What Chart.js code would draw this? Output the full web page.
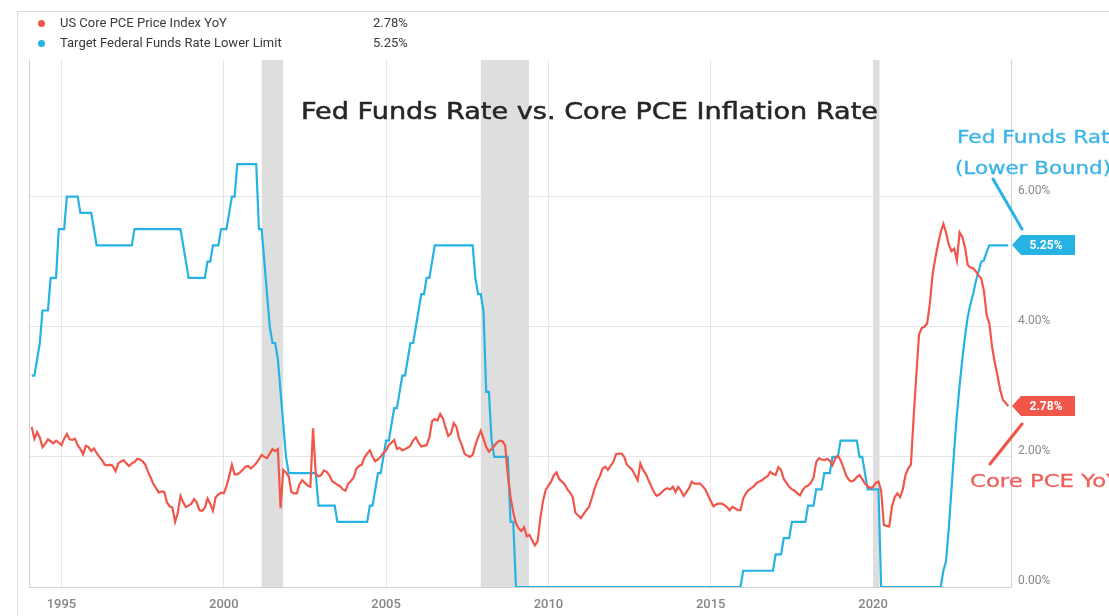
<!DOCTYPE html>
<html>
<head>
<meta charset="utf-8">
<script src="https://cdn.jsdelivr.net/npm/chart.js@4.4.1/dist/chart.umd.min.js"></script>
<style>
html,body{margin:0;padding:0;background:#fff;}
body{width:1109px;height:616px;overflow:hidden;position:relative;font-family:Roboto,"Noto Sans",sans-serif;}
#frame{position:absolute;left:17px;top:11px;width:1200px;height:700px;border-left:1px solid #dcdcdc;border-top:1px solid #dcdcdc;}
#chart{position:absolute;left:0;top:0;}
.legrow{position:absolute;left:0;height:16px;line-height:16px;font-size:13px;color:#3a3a3a;white-space:nowrap;}
.legrow .dot{position:absolute;left:38px;top:4.5px;width:7px;height:7px;border-radius:50%;}
.legrow .name{position:absolute;left:60px;top:0;}
.legrow .val{position:absolute;left:373px;top:0;}
.hand{position:absolute;white-space:nowrap;transform-origin:left center;font-family:"DejaVu Sans",sans-serif;}
#title{left:301px;top:98px;font-size:23px;line-height:26px;color:#262626;-webkit-text-stroke:0.5px #262626;}
#annFed1,#annFed2{color:#3ab4e8;font-size:17px;line-height:20px;-webkit-text-stroke:0.3px #3ab4e8;}
#annFed1{left:957px;top:127px;}
#annFed2{left:955px;top:158px;}
#annPce{left:970px;top:471px;color:#ef5f5a;font-size:17px;line-height:20px;-webkit-text-stroke:0.3px #ef5f5a;}
#pointers{position:absolute;left:0;top:0;}
</style>
</head>
<body>
<div id="frame"></div>
<canvas id="chart" width="1109" height="616"></canvas>
<div class="legrow" style="top:15px"><span class="dot" id="dot0"></span><span class="name" id="name0"></span><span class="val" id="val0"></span></div>
<div class="legrow" style="top:35px"><span class="dot" id="dot1"></span><span class="name" id="name1"></span><span class="val" id="val1"></span></div>
<div class="hand" id="title">Fed Funds Rate vs. Core PCE Inflation Rate</div>
<div class="hand" id="annFed1">Fed Funds Rate</div>
<div class="hand" id="annFed2">(Lower Bound)</div>
<div class="hand" id="annPce">Core PCE YoY</div>
<svg id="pointers" width="1109" height="616">
  <line x1="993" y1="179" x2="1022" y2="229" stroke="#2bb2e4" stroke-width="3" stroke-linecap="round"/>
  <line x1="990" y1="464" x2="1022" y2="424" stroke="#ef5448" stroke-width="3" stroke-linecap="round"/>
</svg>
<script>
// ---- data (monthly, month-end, starting January 1994) ----
const startYear = 1994;
const seriesNames = ['US Core PCE Price Index YoY', 'Target Federal Funds Rate Lower Limit'];

const corePce = [
  2.46,2.28,2.38,2.30,2.15,2.20,2.27,2.24,2.21,2.25,2.22,2.18,
  2.28,2.35,2.27,2.26,2.28,2.18,2.12,2.04,2.17,2.15,2.09,2.13,
  2.06,2.00,1.95,1.88,1.87,1.88,1.86,1.78,1.90,1.93,1.95,1.90,
  1.86,1.90,1.92,1.97,1.96,1.93,1.88,1.77,1.68,1.58,1.52,1.45,
  1.47,1.46,1.30,1.24,1.22,1.00,1.14,1.40,1.30,1.23,1.25,1.28,
  1.35,1.30,1.18,1.17,1.22,1.36,1.28,1.17,1.38,1.42,1.45,1.44,
  1.55,1.70,1.88,1.73,1.73,1.76,1.80,1.85,1.86,1.82,1.86,1.90,
  1.96,2.03,2.00,1.98,2.05,2.12,2.09,2.12,1.21,1.80,1.76,1.70,
  1.46,1.44,1.44,1.58,1.64,1.60,1.56,1.54,2.44,1.74,1.70,1.72,
  1.79,1.77,1.72,1.63,1.60,1.57,1.55,1.50,1.48,1.59,1.63,1.68,
  1.82,1.86,1.88,1.99,2.05,2.10,2.00,1.93,1.96,2.00,2.06,2.10,
  2.18,2.22,2.26,2.12,2.14,2.10,2.12,2.14,2.17,2.25,2.30,2.22,
  2.16,2.17,2.18,2.30,2.55,2.58,2.56,2.66,2.59,2.45,2.32,2.36,
  2.52,2.46,2.28,2.18,2.05,2.02,2.00,2.03,2.18,2.30,2.40,2.28,
  2.15,2.08,2.12,2.17,2.22,2.25,2.24,2.18,1.72,1.38,1.15,0.98,
  0.90,0.86,0.92,0.78,0.80,0.72,0.64,0.70,1.05,1.32,1.49,1.56,
  1.62,1.72,1.76,1.66,1.62,1.58,1.50,1.45,1.38,1.14,1.10,1.06,
  1.12,1.18,1.23,1.36,1.50,1.62,1.70,1.82,1.85,1.80,1.86,1.92,
  2.04,2.05,2.05,2.00,1.88,1.84,1.80,1.72,1.64,1.90,1.80,1.74,
  1.64,1.55,1.46,1.40,1.42,1.46,1.50,1.52,1.50,1.54,1.46,1.54,
  1.48,1.40,1.46,1.52,1.62,1.59,1.59,1.59,1.55,1.50,1.41,1.32,
  1.24,1.27,1.28,1.28,1.26,1.23,1.18,1.23,1.21,1.18,1.18,1.36,
  1.44,1.49,1.52,1.55,1.60,1.62,1.64,1.68,1.70,1.77,1.74,1.72,
  1.84,1.80,1.66,1.60,1.54,1.50,1.48,1.44,1.41,1.49,1.54,1.56,
  1.60,1.68,1.92,1.98,1.96,1.95,1.97,1.94,1.87,1.97,2.02,1.95,
  1.84,1.72,1.65,1.62,1.64,1.69,1.72,1.66,1.59,1.55,1.52,1.54,
  1.60,1.62,1.48,0.95,0.94,0.93,1.24,1.38,1.44,1.38,1.50,1.72,
  1.82,1.88,2.60,3.25,3.88,3.98,4.00,4.05,4.35,4.80,5.05,5.26,
  5.45,5.58,5.45,5.26,5.16,5.20,5.02,5.45,5.38,5.22,4.95,4.91,
  4.90,4.85,4.79,4.74,4.55,4.18,4.05,3.69,3.45,3.25,3.03,2.88,
  2.83,2.78
];

const fedFunds = [
  3.25,3.25,3.5,3.75,4.25,4.25,4.25,4.75,4.75,4.75,5.5,5.5,
  5.5,6,6,6,6,6,5.75,5.75,5.75,5.75,5.75,5.5,
  5.25,5.25,5.25,5.25,5.25,5.25,5.25,5.25,5.25,5.25,5.25,5.25,
  5.25,5.25,5.5,5.5,5.5,5.5,5.5,5.5,5.5,5.5,5.5,5.5,
  5.5,5.5,5.5,5.5,5.5,5.5,5.5,5.5,5.25,5,4.75,4.75,
  4.75,4.75,4.75,4.75,4.75,5,5,5.25,5.25,5.25,5.5,5.5,
  5.5,5.75,6,6,6.5,6.5,6.5,6.5,6.5,6.5,6.5,6.5,
  5.5,5.5,5,4.5,4,3.75,3.75,3.5,3,2.5,2,1.75,
  1.75,1.75,1.75,1.75,1.75,1.75,1.75,1.75,1.75,1.75,1.25,1.25,
  1.25,1.25,1.25,1.25,1.25,1,1,1,1,1,1,1,
  1,1,1,1,1,1.25,1.25,1.5,1.75,1.75,2,2.25,
  2.25,2.5,2.75,2.75,3,3.25,3.25,3.5,3.75,3.75,4,4.25,
  4.5,4.5,4.75,4.75,5,5.25,5.25,5.25,5.25,5.25,5.25,5.25,
  5.25,5.25,5.25,5.25,5.25,5.25,5.25,5.25,4.75,4.5,4.5,4.25,
  3,3,2.25,2,2,2,2,2,2,1,1,0,
  0,0,0,0,0,0,0,0,0,0,0,0,
  0,0,0,0,0,0,0,0,0,0,0,0,
  0,0,0,0,0,0,0,0,0,0,0,0,
  0,0,0,0,0,0,0,0,0,0,0,0,
  0,0,0,0,0,0,0,0,0,0,0,0,
  0,0,0,0,0,0,0,0,0,0,0,0,
  0,0,0,0,0,0,0,0,0,0,0,0.25,
  0.25,0.25,0.25,0.25,0.25,0.25,0.25,0.25,0.25,0.25,0.25,0.5,
  0.5,0.5,0.75,0.75,0.75,1,1,1,1,1,1,1.25,
  1.25,1.25,1.5,1.5,1.5,1.75,1.75,1.75,2,2,2,2.25,
  2.25,2.25,2.25,2.25,2.25,2.25,2,2,1.75,1.5,1.5,1.5,
  1.5,1.5,0,0,0,0,0,0,0,0,0,0,
  0,0,0,0,0,0,0,0,0,0,0,0,
  0,0.25,0.4,0.9,1.5,2.1,2.65,3.1,3.5,3.85,4.15,4.35,
  4.5,4.7,4.85,5.0,5.02,5.15,5.25,5.25,5.25,5.25,5.25,5.25,
  5.25,5.25
];

const xTickYears = [1995, 2000, 2005, 2010, 2015, 2020];
const yTickValues = [0, 2, 4, 6];
const recessionStarts = [2001.17, 2007.92, 2020.00];
const recessionEnds   = [2001.83, 2009.40, 2020.20];

// ---- styling ----
const RED = '#f0564a';
const CYAN = '#26b3e3';
const colors = [RED, CYAN];

const monthTimes = corePce.map((_, k) => startYear + (k + 1) / 12);
const toPoints = arr => arr.map((v, k) => ({ x: monthTimes[k], y: v }));

const recessionPlugin = {
  id: 'recessions',
  beforeDatasetsDraw(chart) {
    const { ctx, chartArea: a, scales: { x } } = chart;
    ctx.save();
    ctx.fillStyle = '#dedede';
    recessionStarts.forEach((s, i) => {
      const x0 = x.getPixelForValue(s), x1 = x.getPixelForValue(recessionEnds[i]);
      ctx.fillRect(x0, a.top, x1 - x0, a.bottom - a.top);
    });
    ctx.restore();
  }
};

const framePlugin = {
  id: 'frame',
  beforeDatasetsDraw(chart) {
    const { ctx, chartArea: a } = chart;
    ctx.save();
    ctx.strokeStyle = '#d2d2d2';
    ctx.lineWidth = 1;
    ctx.beginPath();
    ctx.moveTo(a.left + 0.5, a.top);
    ctx.lineTo(a.left + 0.5, a.bottom + 0.5);
    ctx.lineTo(a.right + 0.5, a.bottom + 0.5);
    ctx.lineTo(a.right + 0.5, a.top);
    ctx.stroke();
    ctx.restore();
  }
};

const tagPlugin = {
  id: 'tags',
  afterDatasetsDraw(chart) {
    const { ctx, chartArea: a, scales: { y } } = chart;
    ctx.save();
    chart.data.datasets.forEach((ds, i) => {
      const last = ds.data[ds.data.length - 1].y;
      const py = Math.round(y.getPixelForValue(last));
      const tip = a.right + 1, bx = a.right + 10, ex = 1075, h = 10;
      ctx.fillStyle = colors[i];
      ctx.beginPath();
      ctx.moveTo(tip, py);
      ctx.lineTo(bx, py - h);
      ctx.lineTo(ex, py - h);
      ctx.lineTo(ex, py + h);
      ctx.lineTo(bx, py + h);
      ctx.closePath();
      ctx.fill();
      ctx.fillStyle = '#ffffff';
      ctx.font = 'bold 12px Roboto, sans-serif';
      ctx.textAlign = 'center';
      ctx.textBaseline = 'middle';
      ctx.fillText(last.toFixed(2) + '%', (bx + ex) / 2 - 2, py + 1);
    });
    ctx.restore();
  }
};

const chart = new Chart(document.getElementById('chart').getContext('2d'), {
  type: 'line',
  data: {
    datasets: [
      { label: seriesNames[0], data: toPoints(corePce), borderColor: RED, borderWidth: 2.2,
        pointRadius: 0, tension: 0, fill: false },
      { label: seriesNames[1], data: toPoints(fedFunds), borderColor: CYAN, borderWidth: 2.2,
        pointRadius: 0, tension: 0, fill: false }
    ]
  },
  options: {
    responsive: false,
    animation: false,
    devicePixelRatio: 1,
    layout: { padding: { left: 29, top: 60, right: 0, bottom: 0 } },
    plugins: { legend: { display: false }, tooltip: { enabled: false } },
    scales: {
      x: {
        type: 'linear', min: 1994, max: 2024.25,
        afterBuildTicks: ax => { ax.ticks = xTickYears.map(v => ({ value: v })); },
        afterFit: ax => { ax.height = 29; },
        grid: { color: '#e6e6e6', drawTicks: false, lineWidth: 1 },
        border: { display: false },
        ticks: { padding: 10, color: '#858585', autoSkip: false, maxRotation: 0,
                 font: { family: 'Roboto', size: 13, weight: '500' },
                 callback: v => String(v) }
      },
      y: {
        position: 'right', min: 0, max: 8.1,
        afterBuildTicks: ax => { ax.ticks = yTickValues.map(v => ({ value: v })); },
        afterFit: ax => { ax.width = 98; },
        grid: { color: '#e6e6e6', drawTicks: false, lineWidth: 1 },
        border: { display: false },
        ticks: { padding: 7, labelOffset: -6, color: '#8a8a8a',
                 font: { family: 'Roboto', size: 12 },
                 callback: v => Number(v).toFixed(2) + '%' }
      }
    }
  },
  plugins: [recessionPlugin, framePlugin, tagPlugin]
});

// legend
[corePce, fedFunds].forEach((arr, i) => {
  document.getElementById('dot' + i).style.background = colors[i];
  document.getElementById('name' + i).textContent = seriesNames[i];
  document.getElementById('val' + i).textContent = arr[arr.length - 1].toFixed(2) + '%';
});

// fit hand-drawn style texts to their widths
function fitWidth(id, w) {
  const el = document.getElementById(id);
  const r = el.getBoundingClientRect().width;
  el.style.transform = 'scaleX(' + (w / r) + ')';
}
fitWidth('title', 577);
fitWidth('annFed1', 166);
fitWidth('annFed2', 156);
fitWidth('annPce', 150);
</script>
</body>
</html>
